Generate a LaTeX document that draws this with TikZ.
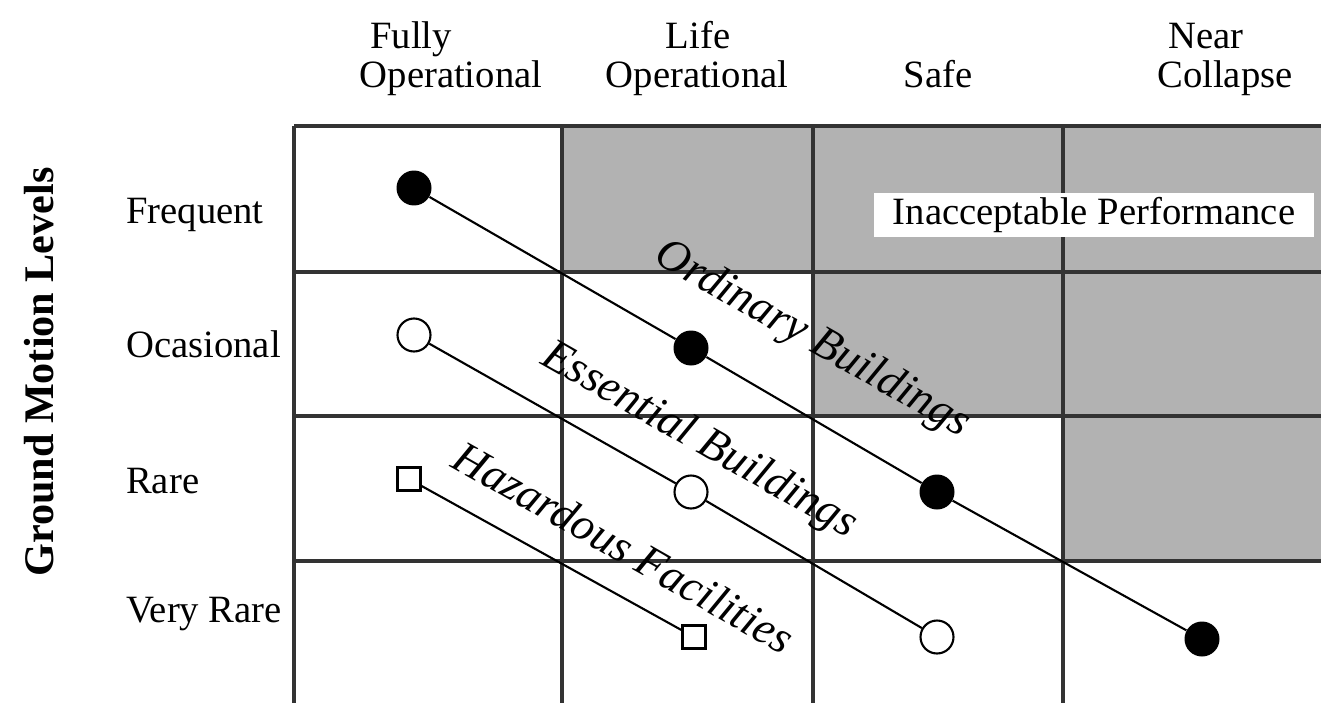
\documentclass[tikz,border=0pt]{standalone}
\usepackage{fontspec}
\setmainfont{Liberation Serif}
\usetikzlibrary{positioning}

\begin{document}
\begin{tikzpicture}[x=0.02cm, y=-0.02cm,
  gridline/.style={line width=2.1pt, black!80},
  link/.style={line width=1.2pt},
  fullpt/.style={circle, fill=black, minimum size=0.7cm, inner sep=0pt},
  openpt/.style={circle, draw, fill=white, line width=1.2pt, minimum size=0.66cm, inner sep=0pt},
  sqpt/.style={rectangle, draw, fill=white, line width=1.2pt, minimum size=0.46cm, inner sep=0pt},
  head/.style={anchor=base, font=\fontsize{22}{26}\selectfont},
  rowlab/.style={anchor=base west, font=\fontsize{22}{26}\selectfont},
  lbl/.style={font=\fontsize{26}{30}\selectfont\itshape, rotate=-29.6, inner sep=0pt}]
  \useasboundingbox (0,0) rectangle (1321,703);

  % Shaded cells
  \fill[gray!60] (562,126) rectangle (1321,272);
  \fill[gray!60] (813,272) rectangle (1321,416);
  \fill[gray!60] (1063,416) rectangle (1321,561);

  % Grid
  \foreach \y in {126,272,416,561}
    \draw[gridline] (294,\y) -- (1321,\y);
  \foreach \x in {294,562,813,1063}
    \draw[gridline] (\x,126) -- (\x,703);

  % Column headings
  \node[head] (fo1) at (411,48) {Fully};
  \node[head] (fo2) at (451,87) {Operational};
  \node[head] (lo1) at (698,48) {Life};
  \node[head] (lo2) at (697,87) {Operational};
  \node[head] (sf) at (938,87) {Safe};
  \node[head] (nc1) at (1206,48) {Near};
  \node[head] (nc2) at (1225,87) {Collapse};

  % Row headings
  \node[rowlab] (fr) at (120,223) {Frequent};
  \node[rowlab] (oc) at (120,357) {Ocasional};
  \node[rowlab] (ra) at (120,493) {Rare};
  \node[rowlab] (vr) at (120,622) {Very Rare};
  \node[rotate=90, anchor=base, font=\bfseries\fontsize{24}{28}\selectfont] (gml) at (53,372) {Ground Motion Levels};

  % Unacceptable region label
  \node[fill=white, minimum width=8.8cm, minimum height=0.9cm, inner sep=0pt,
        font=\fontsize{22}{26}\selectfont] (unacc) at (1094,215) {Inacceptable Performance};

  % Ordinary buildings
  \node[fullpt] (ob1) at (414,188) {};
  \node[fullpt] (ob2) at (691,348) {};
  \node[fullpt] (ob3) at (937,492) {};
  \node[fullpt] (ob4) at (1202,639) {};
  \draw[link] (ob1) -- (ob2) -- (ob3) -- (ob4);

  % Essential buildings
  \node[openpt] (eb1) at (414,335) {};
  \node[openpt] (eb2) at (691,492) {};
  \node[openpt] (eb3) at (937,637) {};
  \draw[link] (eb1) -- (eb2) -- (eb3);

  % Hazardous facilities
  \node[sqpt] (hf1) at (409,479) {};
  \node[sqpt] (hf2) at (694,637) {};
  \draw[link] (hf1) -- (hf2);

  % Line labels
  \node[lbl] (lob) at (812,340) {Ordinary Buildings};
  \node[lbl] (leb) at (699,441) {Essential Buildings};
  \node[lbl] (lhf) at (624,547) {Hazardous Facilities};
\end{tikzpicture}
\end{document}
